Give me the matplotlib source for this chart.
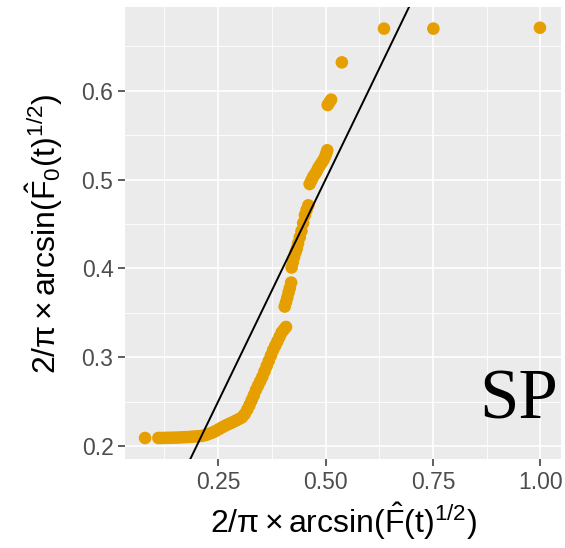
import matplotlib
matplotlib.use("Agg")
import matplotlib.pyplot as plt
from matplotlib.ticker import FixedLocator

plt.rcParams["mathtext.fontset"] = "custom"
plt.rcParams["mathtext.rm"] = "Liberation Sans"
plt.rcParams["mathtext.it"] = "Liberation Sans"
plt.rcParams["mathtext.bf"] = "Liberation Sans:bold"
plt.rcParams["mathtext.sf"] = "Liberation Sans"
plt.rcParams["font.family"] = ["Liberation Sans", "DejaVu Sans"]

# transformed empirical CDF (x) vs transformed null CDF (y)
x_vals = [
    0.080,
    0.111, 0.118, 0.125, 0.132, 0.140, 0.148, 0.156, 0.164, 0.172, 0.180,
    0.188, 0.196, 0.204, 0.212,
    0.220, 0.228, 0.236, 0.244, 0.252, 0.260, 0.268, 0.276, 0.284, 0.292,
    0.300, 0.306,
    0.312, 0.318, 0.323, 0.328, 0.333, 0.338, 0.343, 0.348, 0.353, 0.358,
    0.363, 0.368, 0.373, 0.378, 0.383, 0.388, 0.393, 0.398, 0.403, 0.408,
    0.405, 0.408, 0.411, 0.414, 0.417, 0.420,
    0.421, 0.424, 0.427, 0.430, 0.433, 0.436, 0.440, 0.444, 0.448, 0.452,
    0.456, 0.460,
    0.463, 0.467, 0.471, 0.475, 0.479, 0.483, 0.487, 0.491, 0.495, 0.499,
    0.502, 0.504,
    0.505, 0.509, 0.513,
    0.538, 0.636, 0.751, 0.999,
]
y_vals = [
    0.209,
    0.2090, 0.2090, 0.2091, 0.2092, 0.2093, 0.2094, 0.2095, 0.2097, 0.2099, 0.2101,
    0.2104, 0.2107, 0.2110, 0.2114,
    0.2122, 0.2135, 0.2150, 0.2168, 0.2190, 0.2212, 0.2232, 0.2250, 0.2268, 0.2287,
    0.2307, 0.2325,
    0.2360, 0.2410, 0.2460, 0.2515, 0.2570, 0.2630, 0.2680, 0.2730, 0.2780, 0.2840,
    0.2900, 0.2960, 0.3020, 0.3080, 0.3130, 0.3180, 0.3230, 0.3280, 0.3310, 0.3340,
    0.357, 0.362, 0.367, 0.373, 0.378, 0.384,
    0.401, 0.407, 0.413, 0.418, 0.422, 0.428, 0.435, 0.442, 0.451, 0.460,
    0.466, 0.471,
    0.495, 0.499, 0.503, 0.506, 0.509, 0.513, 0.516, 0.519, 0.522, 0.526,
    0.530, 0.533,
    0.584, 0.587, 0.590,
    0.632, 0.670, 0.670, 0.671,
]

x_ticks = [0.25, 0.50, 0.75, 1.00]
x_tick_labels = ["0.25", "0.50", "0.75", "1.00"]
x_minor = [0.125, 0.375, 0.625, 0.875]
y_ticks = [0.2, 0.3, 0.4, 0.5, 0.6]
y_tick_labels = ["0.2", "0.3", "0.4", "0.5", "0.6"]
y_minor = [0.25, 0.35, 0.45, 0.55, 0.65]

panel_label = "SP"
point_color = "#E69F00"

fig = plt.figure(figsize=(5.65, 5.48), dpi=100)
ax = fig.add_axes([125 / 565, 1 - 459.3 / 548, (561 - 125) / 565, (459.3 - 7.3) / 548])
ax.set_facecolor("#EBEBEB")
for s in ax.spines.values():
    s.set_visible(False)

ax.set_xlim(0.0333, 1.048)
ax.set_ylim(0.185, 0.694)

ax.xaxis.set_major_locator(FixedLocator(x_ticks))
ax.xaxis.set_minor_locator(FixedLocator(x_minor))
ax.yaxis.set_major_locator(FixedLocator(y_ticks))
ax.yaxis.set_minor_locator(FixedLocator(y_minor))
ax.set_xticklabels(x_tick_labels)
ax.set_yticklabels(y_tick_labels)

ax.grid(which="major", color="white", linewidth=1.2)
ax.grid(which="minor", color="white", linewidth=0.6)
ax.set_axisbelow(True)

ax.tick_params(which="major", length=4.8, width=1.1, color="#333333",
               labelcolor="#4D4D4D", labelsize=16.5, pad=3.5)
ax.tick_params(which="minor", length=0)

ax.scatter(x_vals, y_vals, s=82, color=point_color, edgecolors="none", zorder=3)
ax.axline((0, 0), slope=1, color="black", linewidth=1.4, zorder=4)

ax.text(1.041, 0.2315, panel_label, ha="right", va="baseline",
        fontfamily="Liberation Serif", fontsize=51, color="black", zorder=5)

ax.set_xlabel(r"$2/\pi\times\mathrm{arcsin}(\hat{\mathrm{F}}(\mathrm{t})^{1/2})$",
              fontsize=23, color="black", labelpad=5)
ax.set_ylabel(r"$2/\pi\times\mathrm{arcsin}(\hat{\mathrm{F}}_0(\mathrm{t})^{1/2})$",
              fontsize=23, color="black", labelpad=12)

fig.savefig("out.png", dpi=100, facecolor="white")
